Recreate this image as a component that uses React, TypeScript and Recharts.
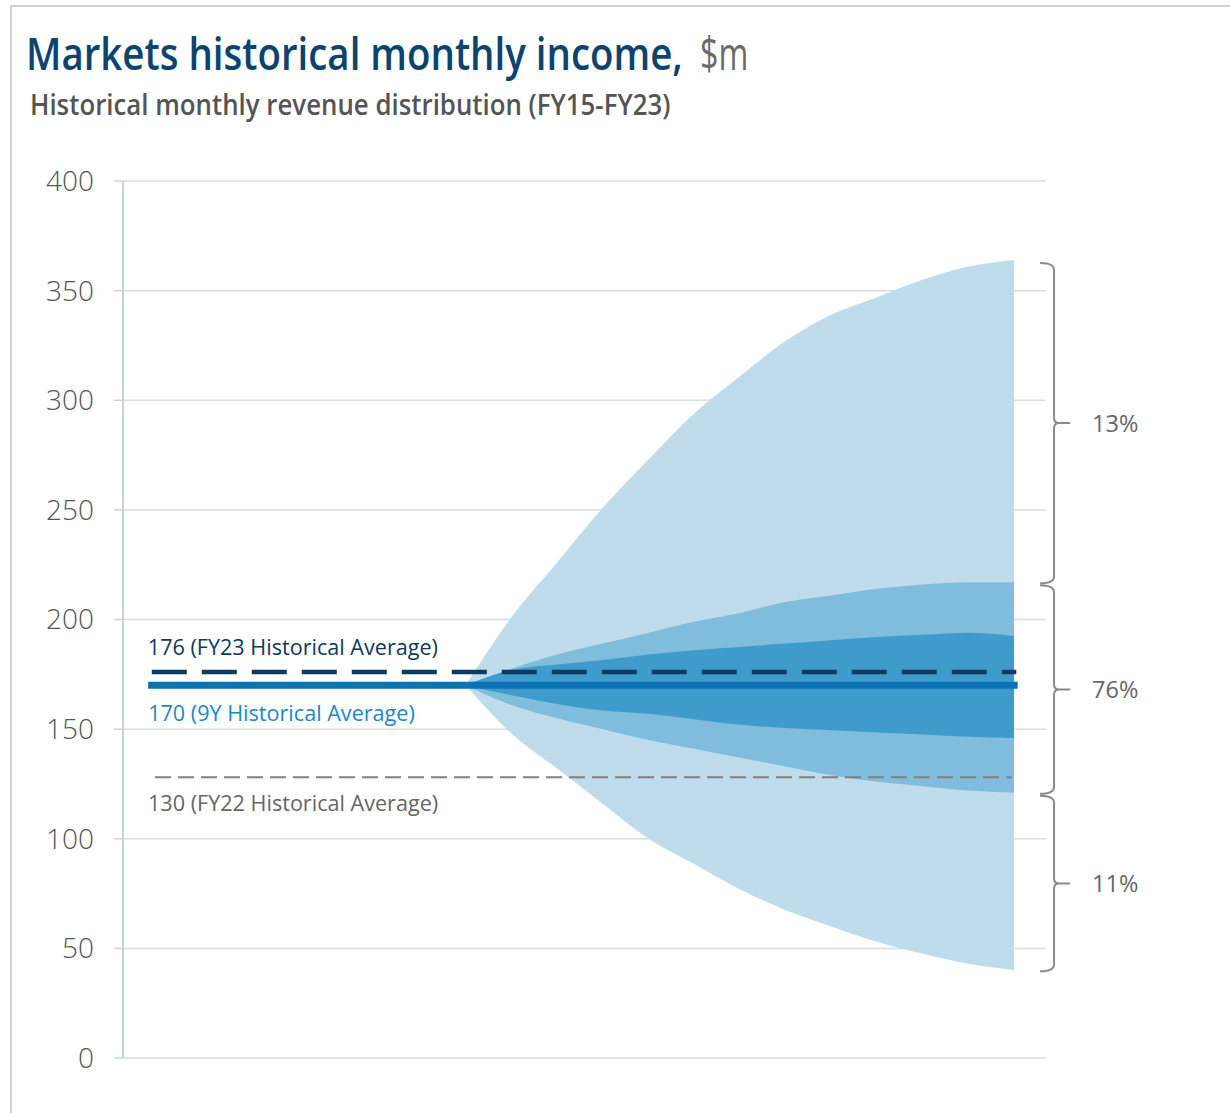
import React, { useLayoutEffect, useRef, useState } from 'react';
import { ComposedChart, Area, Line, XAxis, YAxis, CartesianGrid, ReferenceArea } from 'recharts';

// Forecast horizon steps (fan starts at step 0)
const steps = [0, 1, 2, 3, 4, 5, 6, 7, 8, 9, 10, 11, 12];
// Outer band (light)
const outerHigh = [170, 201, 226, 251, 273, 294, 311, 327, 339, 347, 355, 361, 364];
const outerLow = [170, 148, 132, 116, 100, 88.5, 77, 67.5, 60, 53, 47.5, 43, 40];
// Middle band
const midHigh = [170, 177.5, 184, 189, 194, 199, 203, 208, 211, 214, 216, 217, 217];
const midLow = [170, 161, 155, 150, 145, 141, 137, 133, 129, 126, 124, 122, 121];
// Inner band (dark)
const innerHigh = [170, 177, 179.5, 181.5, 184, 186, 187.5, 189, 190.5, 192, 193, 194, 192.5];
const innerLow = [170, 165.5, 161.5, 158.5, 157, 154.5, 152, 150.5, 149.5, 148.5, 147.5, 146.5, 146];

const yTicks = [0, 50, 100, 150, 200, 250, 300, 350, 400];

// Average reference lines
const avgNames = ['fy23', 'nineY', 'fy22'];
const avgValues = [176, 170, 128];
const avgStart = [-6.87, -6.95, -6.8];
const avgEnd = [12.05, 12.08, 11.95];
const avgLabels = ['176 (FY23 Historical Average)', '170 (9Y Historical Average)', '130 (FY22 Historical Average)'];

// Brackets on the right
const bracketLow = [217, 121, 40];
const bracketHigh = [364, 217, 121];
const bracketLabels = ['13%', '76%', '11%'];

const titleMain = 'Markets historical monthly income,';
const titleUnit = '$m';
const subtitle = 'Historical monthly revenue distribution (FY15-FY23)';

const fanData = steps.map((s, i) => ({
  x: s,
  outer: [outerLow[i], outerHigh[i]],
  mid: [midLow[i], midHigh[i]],
  inner: [innerLow[i], innerHigh[i]],
}));

const avgData = avgNames.map((n, i) => [
  { x: avgStart[i], v: avgValues[i] },
  { x: avgEnd[i], v: avgValues[i] },
]);

const FONT = '"Open Sans", "Noto Sans", sans-serif';

const avgStyles = [
  { stroke: '#0b3b5e', width: 4.5, dash: '35 15', labelColor: '#0e3a5c', dx: -4, dy: -17 },
  { stroke: '#0b72b5', width: 7, dash: undefined, labelColor: '#1a87c9', dx: 0, dy: 36 },
  { stroke: '#808080', width: 2, dash: '16 7', labelColor: '#666666', dx: -7, dy: 34 },
];

const makeLabelDot = (text: string, color: string, dx: number, dy: number) => (props: any) => {
  if (props.index !== 0) return <g key={'e' + text + props.index} />;
  return (
    <text
      key={'lbl' + text}
      x={props.cx + dx}
      y={props.cy + dy}
      fill={color}
      fontSize={21.6}
      fontFamily={FONT}
    >
      {text}
    </text>
  );
};

const makeBrace = (label: string) => (props: any) => {
  const { x, y, height } = props;
  const top = y + 3;
  const bottom = y + height + 1;
  const mid = (top + bottom) / 2;
  const xl = x;
  const xv = x + 14;
  const xt = x + 30;
  const r = 7;
  const d = `M ${xl} ${top} Q ${xv} ${top} ${xv} ${top + r} L ${xv} ${mid - 5} Q ${xv} ${mid} ${xv + 5} ${mid} L ${xt} ${mid} M ${xv + 5} ${mid} Q ${xv} ${mid} ${xv} ${mid + 5} L ${xv} ${bottom - r} Q ${xv} ${bottom} ${xl} ${bottom}`;
  return (
    <g>
      <path d={d} fill="none" stroke="#8a8a8a" strokeWidth={2} />
      <text x={x + 52} y={mid} dy="0.36em" fill="#666666" fontSize={23.5} fontFamily={FONT}>
        {label}
      </text>
    </g>
  );
};

function FitText(props: {
  text: string;
  left: number;
  top: number;
  width: number;
  fontSize: number;
  fontWeight: number;
  color: string;
}) {
  const ref = useRef<HTMLSpanElement>(null);
  const [scale, setScale] = useState(1);
  useLayoutEffect(() => {
    if (ref.current) {
      const w = ref.current.offsetWidth;
      if (w > 0) setScale(props.width / w);
    }
  }, [props.text, props.width]);
  return (
    <span
      ref={ref}
      style={{
        position: 'absolute',
        left: props.left,
        top: props.top,
        display: 'inline-block',
        whiteSpace: 'nowrap',
        fontFamily: FONT,
        fontSize: props.fontSize,
        fontWeight: props.fontWeight,
        lineHeight: `${props.fontSize}px`,
        color: props.color,
        transform: `scaleX(${scale})`,
        transformOrigin: '0 0',
      }}
    >
      {props.text}
    </span>
  );
}

export default function App() {
  return (
    <div style={{ position: 'absolute', left: 0, top: 0, width: 1230, height: 1113, background: '#fff', fontFamily: FONT }}>
      <div
        style={{
          position: 'absolute',
          left: 10,
          top: 5,
          width: 1220,
          height: 1108,
          borderTop: '2px solid #d0d0d0',
          borderLeft: '2px solid #d0d0d0',
          boxSizing: 'border-box',
        }}
      />
      <FitText text={titleMain} left={26} top={30} width={657} fontSize={45} fontWeight={600} color="#0c4470" />
      <FitText text={titleUnit} left={700} top={30} width={48} fontSize={45} fontWeight={400} color="#6a6a6a" />
      <FitText text={subtitle} left={30} top={90} width={640} fontSize={28} fontWeight={600} color="#555555" />
      <div style={{ position: 'absolute', left: 0, top: 0 }}>
        <ComposedChart
          width={1230}
          height={1113}
          data={fanData}
          margin={{ top: 181, right: 184, bottom: 55, left: 0 }}
        >
          <CartesianGrid vertical={false} stroke="#dcdcdc" strokeWidth={1.5} />
          <XAxis dataKey="x" type="number" domain={[-7.5, 12.7]} hide />
          <YAxis
            width={123}
            domain={[0, 400]}
            ticks={yTicks}
            interval={0}
            axisLine={{ stroke: '#c3d4df', strokeWidth: 2 }}
            tickLine={{ stroke: '#c3d4df', strokeWidth: 1.5 }}
            tickSize={9}
            tickMargin={20}
            tick={{ fill: '#555555', fontSize: 28, fontFamily: FONT, fontWeight: 300 }}
          />
          <Area dataKey="outer" type="monotone" stroke="none" fill="#bedcec" fillOpacity={1} isAnimationActive={false} dot={false} activeDot={false} />
          <Area dataKey="mid" type="monotone" stroke="none" fill="#80bddd" fillOpacity={1} isAnimationActive={false} dot={false} activeDot={false} />
          <Area dataKey="inner" type="monotone" stroke="none" fill="#3f9bcc" fillOpacity={1} isAnimationActive={false} dot={false} activeDot={false} />
          {avgData.map((d, i) => (
            <Line
              key={avgNames[i]}
              data={d}
              dataKey="v"
              type="linear"
              stroke={avgStyles[i].stroke}
              strokeWidth={avgStyles[i].width}
              strokeDasharray={avgStyles[i].dash}
              strokeLinecap="butt"
              isAnimationActive={false}
              activeDot={false}
              dot={makeLabelDot(avgLabels[i], avgStyles[i].labelColor, avgStyles[i].dx, avgStyles[i].dy)}
            />
          ))}
          {bracketLabels.map((lab, i) => (
            <ReferenceArea
              key={lab}
              x1={12.57}
              x2={13.23}
              y1={bracketLow[i]}
              y2={bracketHigh[i]}
              ifOverflow="visible"
              shape={makeBrace(lab)}
            />
          ))}
        </ComposedChart>
      </div>
    </div>
  );
}
